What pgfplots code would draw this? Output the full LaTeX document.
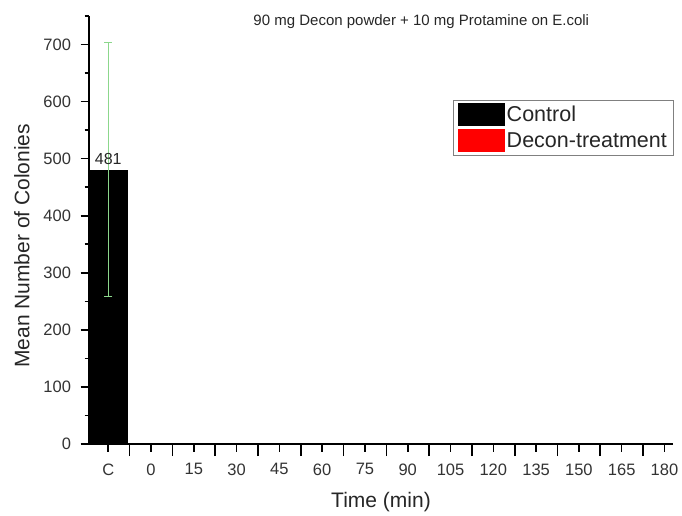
\documentclass[border=0pt]{standalone}
\usepackage{fontspec}
\setmainfont{Liberation Sans}
\usepackage{pgfplots}
\pgfplotsset{compat=1.18}
\definecolor{errgreen}{RGB}{140,215,140}
\definecolor{legred}{RGB}{255,0,0}
\pgfplotsset{
  common/.style={
    at={(89pt,71pt)}, anchor=south west,
    scale only axis, width=584pt, height=428pt,
    xmin=-0.45, xmax=13.2, ymin=0, ymax=750,
    axis lines*=left, axis line style={-, line width=2pt},
    tick align=outside,
    every tick/.style={black, line width=1.6pt},
    every minor tick/.style={black, line width=1.6pt},
  }
}
\begin{document}
\begin{tikzpicture}[x=1pt,y=1pt]
\useasboundingbox (0,0) rectangle (682,515);
% y ticks, major and minor
\begin{axis}[common,
  xtick=\empty,
  ytick={0,100,...,700}, yticklabels={},
  minor ytick={50,150,...,750},
  major tick length=8.5pt, minor tick length=4.5pt,
]
\end{axis}
% long x ticks between categories
\begin{axis}[common,
  xtick={0.5,1.5,...,12.5}, xticklabels={},
  ytick=\empty,
  major tick length=12pt,
]
\end{axis}
% data axis
\begin{axis}[common,
  axis on top,
  /pgf/number format/assume math mode=true,
  xtick={0,...,13},
  xticklabels={C,0,15,30,45,60,75,90,105,120,135,150,165,180},
  ytick={0,100,...,700},
  ytick style={draw=none},
  major tick length=7.5pt,
  tick label style={font=\fontsize{16.5}{16.5}\selectfont, text=black!80},
  xticklabel style={yshift=-8.5pt},
  yticklabel style={xshift=-7pt},
  xlabel={Time (min)},
  ylabel={Mean Number of Colonies},
  label style={font=\fontsize{21}{21}\selectfont, text=black!85},
  xlabel style={at={(ticklabel cs:0.5)}, yshift=-10pt},
  ylabel style={at={(ticklabel cs:0.463)}, yshift=7pt},
  title={90 mg Decon powder + 10 mg Protamine on E.coli},
  title style={at={(0.569,0.993)}, anchor=center, yshift=-9pt, font=\fontsize{15}{15}\selectfont, text=black!85},
  legend image code/.code={\fill[#1] (0pt,-11.5pt) rectangle (47pt,11.5pt);},
  legend style={at={(0.623,0.804)}, anchor=north west, draw=gray, line width=0.8pt,
    inner xsep=5pt, inner ysep=3pt, row sep=3pt, font=\fontsize{21.5}{21.5}\selectfont,
    nodes={text=black!85, inner xsep=1.5pt, inner ysep=2pt},
    /tikz/every even column/.append style={column sep=6pt}},
  legend cell align=left,
]
\addplot[ybar, bar width=0.93, fill=black, draw=none,
  error bars/.cd, y dir=both, y explicit,
  error bar style={errgreen, line width=1.2pt},
  error mark options={errgreen, rotate=90, mark size=4pt, line width=1.2pt}]
  coordinates {(0,481) +- (0,222)};
\addlegendentry{Control}
\addplot[ybar, bar width=0.93, fill=legred, draw=none]
  coordinates {(1,0) (2,0) (3,0) (4,0) (5,0) (6,0) (7,0) (8,0) (9,0) (10,0) (11,0) (12,0) (13,0)};
\addlegendentry{Decon-treatment\hspace{8pt}}
\node[above, font=\fontsize{16}{16}\selectfont, text=black!85, inner sep=5pt] at (axis cs:0,481) {481};
\end{axis}
\end{tikzpicture}
\end{document}
